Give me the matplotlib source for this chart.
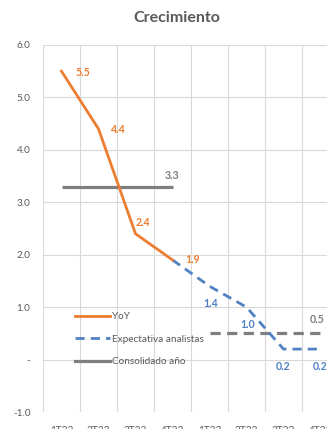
import matplotlib
matplotlib.use("Agg")
import matplotlib.pyplot as plt
from matplotlib.lines import Line2D
import numpy as np

quarters = ['1T22', '2T22', '3T22', '4T22', '1T23', '2T23', '3T23', '4T23']
yoy = [5.5, 4.4, 2.4, 1.9, None, None, None, None]
expectativa = [None, None, None, 1.9, 1.4, 1.0, 0.2, 0.2]
consolidado_2022 = [3.3, 3.3, 3.3, 3.3, None, None, None, None]
consolidado_2023 = [None, None, None, None, 0.5, 0.5, 0.5, 0.5]
yticks = [-1.0, 0.0, 1.0, 2.0, 3.0, 4.0, 5.0, 6.0]
ytick_labels = ['-1.0', '-', '1.0', '2.0', '3.0', '4.0', '5.0', '6.0']

ORANGE = '#ED7D31'
BLUE = '#4F81C4'
GRAY = '#7F7F7F'
TXT = '#595959'

plt.rcParams['font.family'] = ['Lato', 'DejaVu Sans']

W, H = 327, 429
fig = plt.figure(figsize=(W / 100, H / 100), dpi=100)
ax = fig.add_axes([43 / W, (H - 412) / H, 296 / W, 367 / H])

x = np.arange(len(quarters))

def arr(v):
    return np.array([np.nan if a is None else a for a in v], dtype=float)

ax.plot(x, arr(consolidado_2022), color=GRAY, lw=2.3, solid_capstyle='butt', zorder=3)
ax.plot(x, arr(consolidado_2023), color=GRAY, lw=2.3, linestyle=(0, (3.2, 2.0)), zorder=3)
ax.plot(x, arr(expectativa), color=BLUE, lw=2.0, linestyle=(0, (3.3, 2.2)), zorder=4)
ax.plot(x, arr(yoy), color=ORANGE, lw=2.0, zorder=5)

ax.set_xlim(-0.5, len(quarters) - 0.5)
ax.set_ylim(-1.0, 6.0)

ax.set_xticks(x)
ax.set_xticklabels(quarters, fontsize=7.2, color=TXT)
ax.set_xticks(np.arange(-0.5, len(quarters), 1.0), minor=True)
ax.set_yticks(yticks)
ax.set_yticklabels(ytick_labels, fontsize=7.2, color=TXT)
ax.tick_params(axis='x', which='both', length=0, pad=10)
ax.tick_params(axis='y', length=0, pad=9)
ax.grid(True, axis='y', which='major', color='#D9D9D9', lw=0.8)
ax.grid(True, axis='x', which='minor', color='#D9D9D9', lw=0.8)
ax.grid(False, axis='x', which='major')
for s in ax.spines.values():
    s.set_visible(False)
ax.set_axisbelow(True)

def lab(xi, yi, text, color, dx, dy):
    ax.annotate(text, (xi, yi), xytext=(dx / 1.389, dy / 1.389), textcoords='offset points',
                ha='center', va='center', fontsize=7.6, fontweight='bold', color=color,
                annotation_clip=False)

# YoY labels
lab(0, 5.5, '5.5', ORANGE, 21, -1)
lab(1, 4.4, '4.4', ORANGE, 20, -1)
lab(2, 2.4, '2.4', ORANGE, 7, 11)
lab(3, 1.9, '1.9', ORANGE, 20, 0)
# Expectativa labels
for xi, yi, dx in [(4, 1.4, 1), (5, 1.0, 1), (6, 0.2, 0), (7, 0.2, 0)]:
    lab(xi, yi, f'{yi:.1f}', BLUE, dx, -17)
lab(3, 3.3, '3.3', GRAY, 0, 11)
lab(7, 0.5, '0.5', GRAY, -3, 14)

fig.text(177 / W, 1 - 18 / H, 'Crecimiento', fontsize=11.5, fontweight='bold', color=TXT,
         ha='center', va='center')

handles = [
    Line2D([], [], color=ORANGE, lw=2.0),
    Line2D([], [], color=BLUE, lw=2.0, linestyle=(0, (3.3, 2.2))),
    Line2D([], [], color=GRAY, lw=2.3),
]
leg = fig.legend(handles, ['YoY', 'Expectativa analistas', 'Consolidado año'],
                 loc='upper left', bbox_to_anchor=(75 / W, 1 - 312 / H),
                 frameon=False, fontsize=7.2, handlelength=3.5, handletextpad=0.25,
                 labelspacing=1.35, borderpad=0, borderaxespad=0)
for t in leg.get_texts():
    t.set_color(TXT)

fig.savefig('out.png', dpi=100)
